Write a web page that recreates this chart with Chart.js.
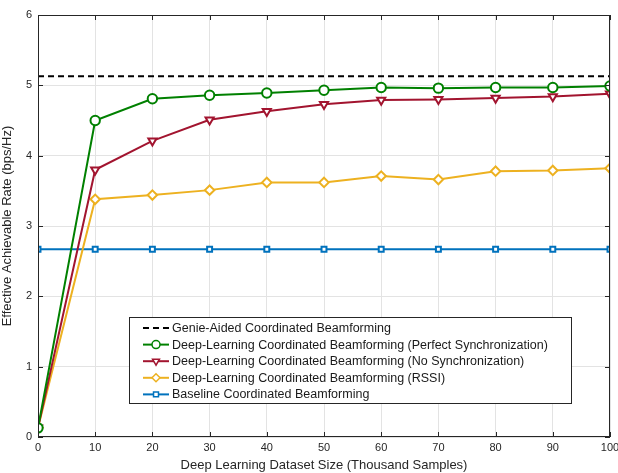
<!DOCTYPE html>
<html lang="en">
<head>
  <meta charset="UTF-8" />
  <title>Effective Achievable Rate vs Dataset Size</title>
  <style>
    body { margin: 0; background: #fff; }
    #wrap { width: 618px; height: 473px; }
  </style>
  <script src="https://cdn.jsdelivr.net/npm/chart.js"></script>
</head>
<body>
  <div id="wrap"><canvas id="chart" width="618" height="473"></canvas></div>
  <script>
    // dataset sizes (thousand samples)
    const sizes = [0, 10, 20, 30, 40, 50, 60, 70, 80, 90, 100];

    const genie = [5.13, 5.13, 5.13, 5.13, 5.13, 5.13, 5.13, 5.13, 5.13, 5.13, 5.13];
    const dlPerfect = [0.13, 4.50, 4.81, 4.86, 4.89, 4.93, 4.97, 4.96, 4.97, 4.97, 4.99];
    const dlNoSync = [0.13, 3.80, 4.21, 4.51, 4.63, 4.73, 4.79, 4.80, 4.82, 4.84, 4.88];
    const dlRssi = [0.13, 3.38, 3.44, 3.51, 3.62, 3.62, 3.71, 3.66, 3.78, 3.79, 3.82];
    const baseline = [2.67, 2.67, 2.67, 2.67, 2.67, 2.67, 2.67, 2.67, 2.67, 2.67, 2.67];

    const xTicks = [0, 10, 20, 30, 40, 50, 60, 70, 80, 90, 100];
    const yTicks = [0, 1, 2, 3, 4, 5, 6];

    const FONT = '"Liberation Sans", Arial, Helvetica, sans-serif';
    const AXIS = '#262626';

    function pts(ys) {
      return sizes.map((x, i) => ({ x: x, y: ys[i] }));
    }

    const series = [
      { label: 'Genie-Aided Coordinated Beamforming', data: genie, color: '#000000', style: false, dash: [6, 4] },
      { label: 'Deep-Learning Coordinated Beamforming (Perfect Synchronization)', data: dlPerfect, color: '#008000', style: 'circle', rot: 0 },
      { label: 'Deep-Learning Coordinated Beamforming (No Synchronization)', data: dlNoSync, color: '#A2142F', style: 'triangle', rot: 180 },
      { label: 'Deep-Learning Coordinated Beamforming (RSSI)', data: dlRssi, color: '#EDB120', style: 'rectRot', rot: 0 },
      { label: 'Baseline Coordinated Beamforming', data: baseline, color: '#0072BD', style: 'rect', rot: 0 }
    ];

    // box, inward ticks and legend, drawn like the MATLAB figure
    const decor = {
      id: 'decor',
      afterDraw(chart) {
        const c = chart.ctx;
        const a = chart.chartArea;
        const xs = chart.scales.x, ys = chart.scales.y;
        c.save();
        c.strokeStyle = AXIS;
        c.lineWidth = 1;
        c.strokeRect(a.left + 0.5, a.top + 0.5, a.right - a.left - 1, a.bottom - a.top - 1);
        c.beginPath();
        xTicks.forEach(t => {
          const px = Math.round(xs.getPixelForValue(t)) + 0.5;
          c.moveTo(px, a.bottom); c.lineTo(px, a.bottom - 5);
          c.moveTo(px, a.top); c.lineTo(px, a.top + 5);
        });
        yTicks.forEach(t => {
          const py = Math.round(ys.getPixelForValue(t)) + 0.5;
          c.moveTo(a.left, py); c.lineTo(a.left + 5, py);
          c.moveTo(a.right, py); c.lineTo(a.right - 5, py);
        });
        c.stroke();

        // legend
        const lx = 129, ly = 317, lw = 442, lh = 86;
        c.fillStyle = '#fff';
        c.fillRect(lx, ly, lw, lh);
        c.strokeStyle = '#262626';
        c.strokeRect(lx + 0.5, ly + 0.5, lw, lh);
        c.font = '12.5px ' + FONT;
        c.textBaseline = 'middle';
        series.forEach((s, i) => {
          const y = ly + 11 + i * 16.6;
          c.strokeStyle = s.color;
          c.lineWidth = 2;
          c.setLineDash(s.dash || []);
          c.beginPath();
          c.moveTo(143, y); c.lineTo(169, y);
          c.stroke();
          c.setLineDash([]);
          if (s.style) {
            c.fillStyle = '#fff';
            c.lineWidth = 1.5;
            Chart.helpers.drawPoint(c, { pointStyle: s.style, radius: s.style === 'rect' ? 3.5 : 4, rotation: s.rot, borderWidth: 1.5 }, 156, y);
          }
          c.fillStyle = '#1a1a1a';
          c.fillText(s.label, 172, y + 0.5);
        });
        c.restore();
      }
    };

    new Chart(document.getElementById('chart'), {
      type: 'line',
      data: {
        datasets: series.map(s => ({
          label: s.label,
          data: pts(s.data),
          borderColor: s.color,
          backgroundColor: '#ffffff',
          borderWidth: 2,
          borderDash: s.dash || [],
          pointStyle: s.style,
          pointRotation: s.rot || 0,
          pointRadius: s.style ? (s.style === 'rect' ? 3.5 : 4.7) : 0,
          pointBorderWidth: 2,
          pointBackgroundColor: '#ffffff',
          tension: 0
        }))
      },
      options: {
        responsive: false,
        animation: false,
        layout: { padding: { top: 15, right: 8, left: 0, bottom: 0 } },
        plugins: { legend: { display: false }, tooltip: { enabled: false } },
        scales: {
          x: {
            type: 'linear', min: 0, max: 100,
            afterBuildTicks: s => { s.ticks = xTicks.map(v => ({ value: v })); },
            afterFit: s => { s.height = 36; s.paddingRight = 0; s.paddingLeft = 0; },
            grid: { color: '#e3e3e3', drawTicks: false },
            border: { display: false },
            ticks: { color: AXIS, font: { family: FONT, size: 11 }, padding: 4, maxRotation: 0 },
            title: { display: true, text: 'Deep Learning Dataset Size (Thousand Samples)', color: AXIS, font: { family: FONT, size: 13 }, padding: { top: 1, bottom: 0 } }
          },
          y: {
            min: 0, max: 6,
            afterBuildTicks: s => { s.ticks = yTicks.map(v => ({ value: v })); },
            afterFit: s => { s.width = 38; s.paddingTop = 0; s.paddingBottom = 0; },
            grid: { color: '#e3e3e3', drawTicks: false },
            border: { display: false },
            ticks: { color: AXIS, font: { family: FONT, size: 11 }, padding: 6 },
            title: { display: true, text: 'Effective Achievable Rate (bps/Hz)', color: AXIS, font: { family: FONT, size: 13 }, padding: { top: 0, bottom: 2 } }
          }
        }
      },
      plugins: [decor]
    });
  </script>
</body>
</html>
